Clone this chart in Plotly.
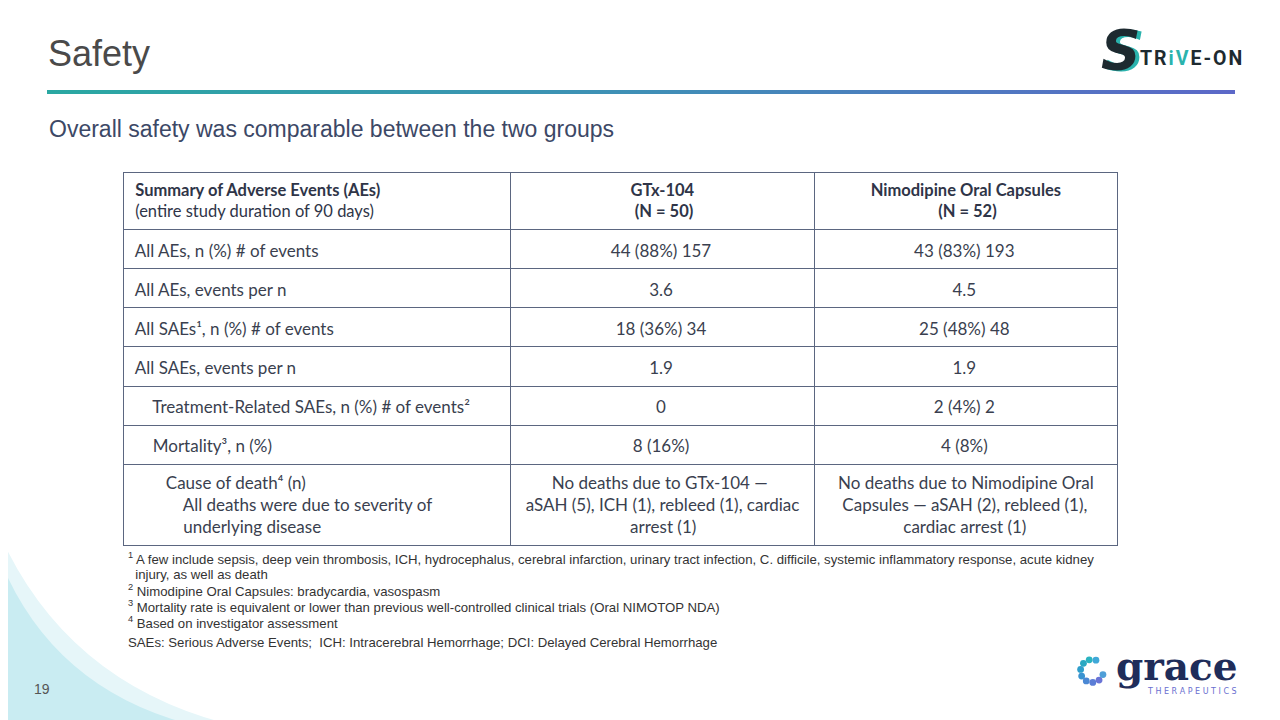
import base64
import math
import plotly.graph_objects as go

W, H = 1280, 720
NB = "\u00a0"

# ---------------- data ----------------
title_text = "Safety"
subtitle_text = "Overall safety was comparable between the two groups"

header_labels = [
    ["<b>Summary of Adverse Events (AEs)</b>", "(entire study duration of 90 days)"],
    ["<b>GTx-104</b>", "<b>(N = 50)</b>"],
    ["<b>Nimodipine Oral Capsules</b>", "<b>(N = 52)</b>"],
]
row_labels = [
    ["All AEs, n (%) # of events"],
    ["All AEs, events per n"],
    ["All SAEs¹, n (%) # of events"],
    ["All SAEs, events per n"],
    ["Treatment-Related SAEs, n (%) # of events²"],
    ["Mortality³, n (%)"],
    ["Cause of death⁴ (n)", "All deaths were due to severity of", "underlying disease"],
]
gtx_values = [
    ["44 (88%) 157"],
    ["3.6"],
    ["18 (36%) 34"],
    ["1.9"],
    ["0"],
    ["8 (16%)"],
    ["No deaths due to GTx-104 —", "aSAH (5), ICH (1), rebleed (1), cardiac", "arrest (1)"],
]
nimo_values = [
    ["43 (83%) 193"],
    ["4.5"],
    ["25 (48%) 48"],
    ["1.9"],
    ["2 (4%) 2"],
    ["4 (8%)"],
    ["No deaths due to Nimodipine Oral", "Capsules — aSAH (2), rebleed (1),", "cardiac arrest (1)"],
]
footnotes = [
    ("1", "A few include sepsis, deep vein thrombosis, ICH, hydrocephalus, cerebral infarction, urinary tract infection, C. difficile, systemic inflammatory response, acute kidney"),
    ("", "injury, as well as death"),
    ("2", "Nimodipine Oral Capsules: bradycardia, vasospasm"),
    ("3", "Mortality rate is equivalent or lower than previous well-controlled clinical trials (Oral NIMOTOP NDA)"),
    ("4", "Based on investigator assessment"),
]
abbrev_text = "SAEs: Serious Adverse Events;  ICH: Intracerebral Hemorrhage; DCI: Delayed Cerebral Hemorrhage"
page_number = "19"

# ---------------- layout helpers (page offset of the browser body) ----------------
OFF = 8


def px(x):
    return (x - OFF) / W


def py(y):
    return 1 - (y - OFF) / H


# indentation (non-breaking spaces) of the first-column lines
label_indent = [[1], [1], [1], [1], [5], [5], [8, 12, 12]]
# leading spaces so that each line of a centred multi-line cell looks centred
header_pad = [[1, 1], [0, 1], [0, 16]]
gtx_pad = [[0], [0], [0], [0], [0], [0], [6, 0, 24]]
nimo_pad = [[0], [0], [0], [0], [0], [0], [0, 1, 15]]

# an empty superscript on one-line cells centres them vertically in their row
VFIX = "<sup>" + NB + "</sup>"


def build(cells, pads, vfix=False):
    out = []
    for lines, pad in zip(cells, pads):
        s = "<br>".join(NB * p + t for t, p in zip(lines, pad))
        if vfix and len(lines) == 1:
            s += VFIX
        out.append(s)
    return out


TABLE_FONT = "Lato, Calibri, Carlito, sans-serif"
SANS = "Liberation Sans, Arial, sans-serif"
LINE_C = "#5b6680"
TEXT_C = "#3a3f4f"

fig = go.Figure()

fig.add_trace(go.Table(
    domain=dict(x=[px(123), px(1117)], y=[py(560), py(172)]),
    columnwidth=[387, 304, 302],
    header=dict(
        values=build(header_labels, header_pad),
        align=["left", "center", "center"],
        font=dict(family=TABLE_FONT, size=16.5, color="#2f3548"),
        fill_color="white",
        line=dict(color=LINE_C, width=1),
        height=57,
    ),
    cells=dict(
        values=[build(row_labels, label_indent, True), build(gtx_values, gtx_pad, True),
                build(nimo_values, nimo_pad, True)],
        align=["left", "center", "center"],
        font=dict(family=TABLE_FONT, size=17, color=TEXT_C),
        fill_color="white",
        line=dict(color=LINE_C, width=1),
        height=38,
    ),
))

shapes = []
annotations = []

# background swoosh bottom-left
shapes.append(dict(type="path", xref="paper", yref="paper",
                   path=f"M {px(0)},{py(535)} Q {px(70)},{py(690)} {px(245)},{py(728)} L {px(0)},{py(728)} Z",
                   fillcolor="#e6f6f9", line=dict(width=0), layer="below"))
shapes.append(dict(type="path", xref="paper", yref="paper",
                   path=f"M {px(0)},{py(560)} Q {px(55)},{py(695)} {px(205)},{py(728)} L {px(0)},{py(728)} Z",
                   fillcolor="#c9ecf2", line=dict(width=0), layer="below"))

# gradient rule under the title (svg image)
svg = ('<svg xmlns="http://www.w3.org/2000/svg" width="1188" height="4" preserveAspectRatio="none">'
       '<defs><linearGradient id="g" x1="0" x2="1" y1="0" y2="0">'
       '<stop offset="0" stop-color="#2aa8a2"/><stop offset="0.5" stop-color="#3f8fb6"/>'
       '<stop offset="1" stop-color="#5c68c8"/></linearGradient></defs>'
       '<rect width="1188" height="4" fill="url(#g)"/></svg>')
src = "data:image/svg+xml;base64," + base64.b64encode(svg.encode()).decode()
images = [dict(source=src, xref="paper", yref="paper", x=px(47), y=py(90),
               sizex=px(1235) - px(47), sizey=4 / H, xanchor="left", yanchor="top",
               sizing="stretch", layer="above")]

# title and subtitle
annotations.append(dict(text=title_text, x=px(46), y=py(53), xref="paper", yref="paper",
                        xanchor="left", yanchor="middle", showarrow=False,
                        font=dict(family=SANS, size=36, color="#4a4a4a")))
annotations.append(dict(text=subtitle_text, x=px(47), y=py(129), xref="paper", yref="paper",
                        xanchor="left", yanchor="middle", showarrow=False,
                        font=dict(family=SANS, size=23, color="#3c4866")))

# footnotes
fy = 558
for sup, txt in footnotes:
    t = (f"<sup>{sup}</sup> " if sup else NB * 2) + txt
    annotations.append(dict(text=t, x=px(126), y=py(fy), xref="paper", yref="paper",
                            xanchor="left", yanchor="middle", showarrow=False,
                            font=dict(family=SANS, size=13.2, color="#333333")))
    fy += 16
annotations.append(dict(text=abbrev_text, x=px(126), y=py(642), xref="paper", yref="paper",
                        xanchor="left", yanchor="middle", showarrow=False,
                        font=dict(family=SANS, size=13.2, color="#333333")))

# page number
annotations.append(dict(text=page_number, x=px(42), y=py(689), xref="paper", yref="paper",
                        xanchor="center", yanchor="middle", showarrow=False,
                        font=dict(family=SANS, size=14, color="#555555")))

# STRIVE-ON logo
annotations.append(dict(text="<b><i>S</i></b>", x=px(1125), y=py(51), xref="paper", yref="paper",
                        xanchor="center", yanchor="middle", showarrow=False,
                        font=dict(family="DejaVu Sans", size=55, color="#2ab3ad")))
annotations.append(dict(text="<b><i>S</i></b>", x=px(1121), y=py(50), xref="paper", yref="paper",
                        xanchor="center", yanchor="middle", showarrow=False,
                        font=dict(family="DejaVu Sans", size=55, color="#1d2a30")))
HS = "\u200a"
logo_txt = HS.join(["T", "R"]) + HS + "<span style='color:#2ab3ad'>" + HS.join(["i", "V"]) + "</span>" \
    + HS + HS.join(["E", "-", "O", "N"])
annotations.append(dict(text="<b>" + logo_txt + "</b>",
                        x=px(1138), y=py(59), xref="paper", yref="paper",
                        xanchor="left", yanchor="middle", showarrow=False,
                        font=dict(family="Roboto, DejaVu Sans", size=19.5, color="#1d2a30")))

# grace therapeutics logo
cx, cy, r = 1092, 671, 11.5
dot_cols = ["#3fa8d8", "#2bb3c0", "#2aa8c2", "#2f9ecb", "#3a93d0", "#4b88d4",
            "#5b7dd6", "#6a74d6", "#4f9fd8"]
for i, ang in enumerate(range(70, 360, 34)):
    a = math.radians(ang)
    x0 = cx + r * math.cos(a)
    y0 = cy - r * math.sin(a)
    rr = 3.4
    shapes.append(dict(type="circle", xref="paper", yref="paper",
                       x0=px(x0 - rr), x1=px(x0 + rr), y0=py(y0 + rr), y1=py(y0 - rr),
                       fillcolor=dot_cols[i % len(dot_cols)], line=dict(width=0)))
annotations.append(dict(text="<b>grace</b>", x=px(1177), y=py(666), xref="paper", yref="paper",
                        xanchor="center", yanchor="middle", showarrow=False,
                        font=dict(family="DejaVu Serif", size=39, color="#1f2d5a")))
annotations.append(dict(text="T H E R A P E U T I C S", x=px(1192), y=py(691), xref="paper", yref="paper",
                        xanchor="center", yanchor="middle", showarrow=False,
                        font=dict(family="DejaVu Sans", size=8, color="#6a6fd0")))

fig.update_layout(
    width=W, height=H,
    margin=dict(l=0, r=0, t=0, b=0),
    paper_bgcolor="white", plot_bgcolor="white",
    shapes=shapes, annotations=annotations, images=images,
    showlegend=False,
)

fig.write_html("out.html")
